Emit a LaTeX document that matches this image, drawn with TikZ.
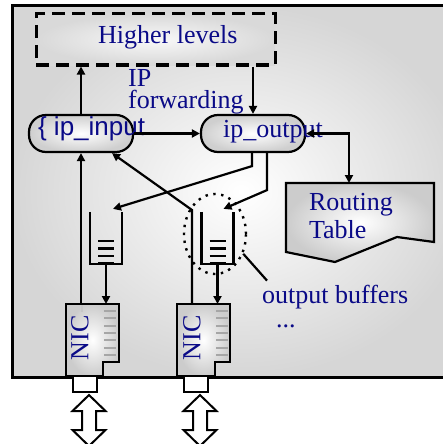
\documentclass[tikz,border=0pt]{standalone}
\usepackage{fontspec}
\setmainfont{Liberation Serif}
\setsansfont{Liberation Sans}
\usetikzlibrary{arrows.meta,shapes.geometric}
\definecolor{txtblue}{RGB}{10,10,135}
\begin{document}
\begin{tikzpicture}[x=1pt,y=-1pt,line width=2.2pt,
  txt/.style={text=txtblue,font=\fontsize{26}{28}\selectfont,inner sep=0pt,anchor=base west},
  arr/.style={-{Triangle[length=8pt,width=8pt]}},
  dblarr/.style={{Triangle[length=8pt,width=8pt]}-{Triangle[length=8pt,width=8pt]}},
  shadebox/.style={inner color=white,outer color=gray!38},
  rbox/.style={draw,shadebox,rounded corners=17pt,minimum width=104pt,minimum height=37pt,inner sep=0pt},
  bufbox/.style={minimum width=30pt,minimum height=50pt,inner sep=0pt},
  stripe/.style={line width=2pt,gray!70},
  bufline/.style={line width=2.4pt},
  twoway/.style={line width=2pt,fill=white},
]
\useasboundingbox (0,0) rectangle (443,444);
\clip (0,0) rectangle (443,444);
% outer frame
\draw[line width=3pt,inner color=white,outer color=gray!32] (12,6) rectangle (470,377);

% higher levels
\node[draw,line width=3pt,dash pattern=on 13pt off 7pt,inner color=gray!5,outer color=gray!30,
      minimum width=239pt,minimum height=51pt] (hl) at (155.5,39.5) {};
\node[txt] (hlt) at (97,44) {Higher levels};

% IP forwarding label
\node[txt] (ipf1) at (127,86) {IP};
\node[txt] (ipf2) at (127,108) {forwarding};

% ip_input / ip_output
\node[rbox] (ipin) at (81,133.5) {};
\node[rbox] (ipout) at (253,133.5) {};
\node[txt,font=\sffamily\fontsize{26}{28}\selectfont] (ipint) at (37,135) {\{ ip\_input};
\node[txt] (ipoutt) at (222,137) {ip\_output};

% routing table
\draw[inner color=white,outer color=gray!40] (286,183) -- (434,183) -- (434,242) -- (397,237) -- (335,262) -- (286,252) -- cycle;
\coordinate (rt) at (349,183);
\node[txt] (rt1) at (308,210) {Routing};
\node[txt] (rt2) at (308,238) {Table};

% buffers
\node[bufbox] (buf1) at (106,238) {};
\node[bufbox] (buf2) at (217.5,238) {};
\foreach \b in {buf1,buf2}{
  \draw[bufline] (\b.north west) -- (\b.south west) -- (\b.south east) -- (\b.north east);
  \foreach \dy in {-3,-10.5,-18,-25.5}
    \draw[bufline] ([xshift=-8pt,yshift=\dy pt]\b.center) -- ([xshift=8pt,yshift=\dy pt]\b.center);
}

% dotted ellipse and its label
\node[ellipse,draw,line width=2.4pt,dash pattern=on 2.4pt off 5.5pt,minimum width=62pt,minimum height=80pt,inner sep=0pt] (ell) at (215,234) {};
\node[txt] (obuf) at (261,303) {output buffers};
\node[txt] (dots) at (275,327) {...};
\draw (ell.-35) -- ([xshift=6pt,yshift=3pt]obuf.north west);

% NICs
\draw[inner color=white,outer color=gray!40] (66,304) -- (119,304) -- (119,362) -- (103,362) -- (103,376) -- (66,376) -- cycle;
\draw[inner color=white,outer color=gray!40] (177,304) -- (230,304) -- (230,362) -- (215,362) -- (215,376) -- (177,376) -- cycle;
\coordinate (nic1) at (66,304);
\coordinate (nic2) at (177,304);
\foreach \i in {0,...,6}{
  \draw[stripe] (104,311+7.3*\i) -- (116,311+7.3*\i);
  \draw[stripe] (216,311+7.3*\i) -- (228,311+7.3*\i);
}
\draw[line width=1.6pt,gray!45] (82,305) -- (82,312);
\node[txt,anchor=center,rotate=90] (nic1t) at (80,338) {NIC};
\node[txt,anchor=center,rotate=90] (nic2t) at (192,338) {NIC};

% connectors to the wire
\draw[line width=2pt,fill=white] (73,376) rectangle (97,392);
\draw[line width=2pt,fill=white] (184,376) rectangle (208,392);
\coordinate (da1) at (89,395);
\coordinate (da2) at (200,395);
\foreach \d in {da1,da2}
  \draw[twoway] (\d) -- ++(16.5,16) -- ++(-9.5,0) -- ++(0,19) -- ++(9.5,0) -- ++(-16.5,16)
        -- ++(-16.5,-16) -- ++(9.5,0) -- ++(0,-19) -- ++(-9.5,0) -- cycle;

% connectors
\draw[arr] (ipin.north) -- (ipin.north |- hl.south);
\draw[arr] (hl.south -| ipout.north) -- (ipout.north);
\draw[arr] (ipin.east) -- (ipout.west);
\draw[dblarr] (ipout.east) -| (rt);
\coordinate (in1) at (81,304);
\coordinate (in2) at (192,304);
\draw[arr] (in1) -- (ipin.south -| in1);
\draw[arr] (in2) -- (192,210) -- ([xshift=31pt]ipin.south);
\draw[arr] ([xshift=-1pt]ipout.south) -- ++(0,13) -- ([xshift=7pt,yshift=3pt]buf1.north);
\draw[arr] ([xshift=14pt]ipout.south) -- ++(0,37) -- ([xshift=6pt,yshift=3pt]buf2.north);
\draw[arr] (buf1.south) -- (buf1.south |- nic1);
\draw[arr] (buf2.south) -- (buf2.south |- nic2);
\end{tikzpicture}
\end{document}
